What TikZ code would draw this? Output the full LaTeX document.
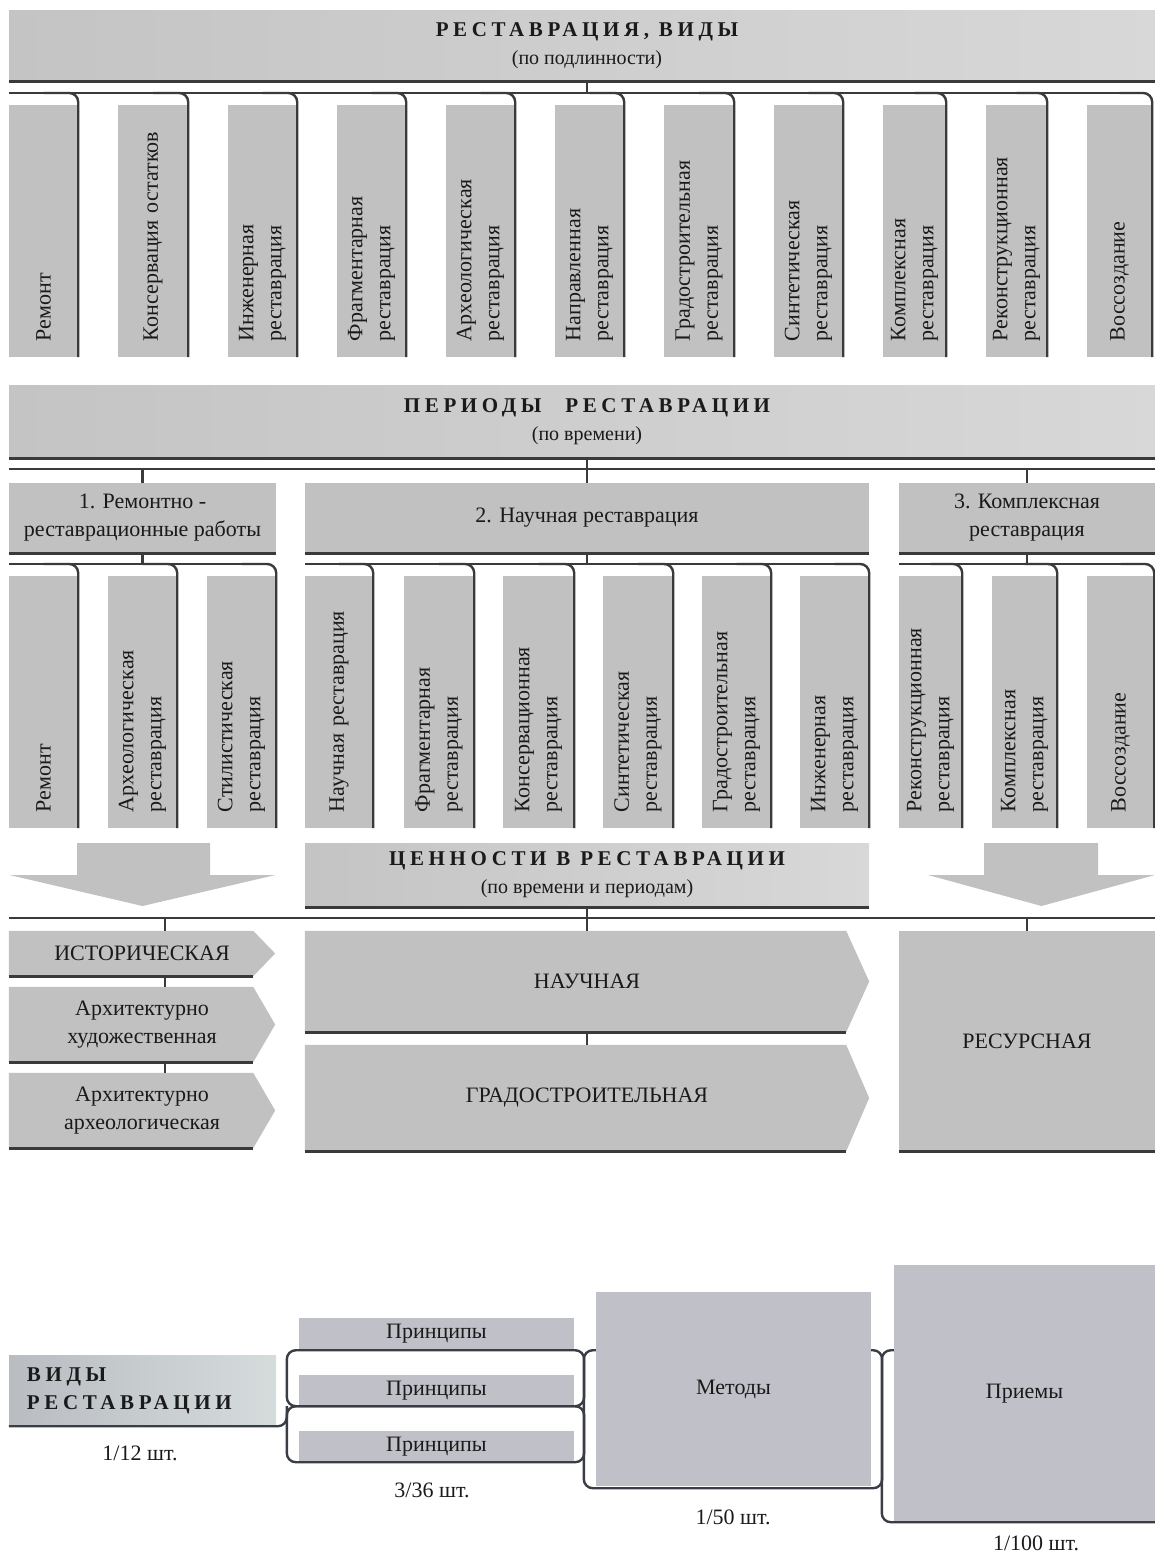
\documentclass[tikz,border=0pt]{standalone}
\usepackage{fontspec}
\setmainfont{Liberation Serif}
\newfontfamily\spaced[LetterSpace=22]{Liberation Serif}
\usetikzlibrary{backgrounds,calc}

\definecolor{bandl}{HTML}{C4C4C4}
\definecolor{bandr}{HTML}{D8D8D8}
\definecolor{boxgray}{HTML}{C1C1C1}
\definecolor{linegray}{HTML}{3A3A3A}
\definecolor{bluegray}{HTML}{C0C0C8}
\definecolor{vidyl}{HTML}{B9BCC1}
\definecolor{vidyr}{HTML}{D5DCDC}
\definecolor{btmline}{HTML}{3A3D45}
\definecolor{ink}{HTML}{1A1A1A}

\begin{document}
\begin{tikzpicture}[x = 1pt, y = -1pt,
                    band/.style = {shape = rectangle,
                                   left color = bandl,
                                   right color = bandr,
                                   minimum width = 1156pt,
                                   minimum height = #1,
                                   inner sep = 0pt,
                                   align = center,
                                   text = ink,
                                   font = \fontsize{20}{28}\selectfont},
                    col/.style = {shape = rectangle,
                                  rotate = 90,
                                  fill = boxgray,
                                  text width = 220pt,
                                  minimum height = #1,
                                  inner xsep = 16pt,
                                  inner ysep = 0pt,
                                  align = left,
                                  text = ink,
                                  font = \fontsize{22}{28}\selectfont},
                    grp/.style = {shape = rectangle,
                                  fill = boxgray,
                                  minimum height = 70pt,
                                  inner sep = 0pt,
                                  align = center,
                                  text = ink,
                                  font = \fontsize{22}{28}\selectfont},
                    val/.style = {shape = rectangle,
                                  inner sep = 0pt,
                                  align = center,
                                  text = ink,
                                  font = \fontsize{22}{28}\selectfont},
                    pbox/.style = {shape = rectangle,
                                   fill = bluegray,
                                   inner sep = 0pt,
                                   align = center,
                                   text = ink,
                                   font = \fontsize{22}{28}\selectfont},
                    note/.style = {inner sep = 0pt,
                                   text = ink,
                                   font = \fontsize{22}{28}\selectfont},
                    link/.style = {draw = linegray, line width = 2.4pt, rounded corners = 9pt},
                    bar/.style = {draw = linegray, line width = 3pt},
                    brk/.style = {draw = btmline, line width = 2.4pt, rounded corners = 9pt}]
		\useasboundingbox (0,0) rectangle (1155,1553);
		\clip (0,0) rectangle (1155,1553);

		% kinds of restoration
		\node[band = 71pt] (b1) at (587,45.5) {{\fontsize{21}{28}\selectfont\spaced\bfseries РЕСТАВРАЦИЯ, ВИДЫ}\\(по подлинности)};
		\coordinate (h1) at (587,93);
		\node[col = 69pt] (t1) at (43.5,231) {Ремонт};
		\node[col = 70pt] (t2) at (153,231) {Консервация остатков};
		\node[col = 69pt] (t3) at (262.5,231) {Инженерная\\реставрация};
		\node[col = 69pt] (t4) at (371.5,231) {Фрагментарная\\реставрация};
		\node[col = 69pt] (t5) at (480.5,231) {Археологическая\\реставрация};
		\node[col = 69pt] (t6) at (589.5,231) {Направленная\\реставрация};
		\node[col = 70pt] (t7) at (699,231) {Градостроительная\\реставрация};
		\node[col = 69pt] (t8) at (808.5,231) {Синтетическая\\реставрация};
		\node[col = 63pt] (t9) at (914.5,231) {Комплексная\\реставрация};
		\node[col = 61pt] (t10) at (1016.5,231) {Реконструкционная\\реставрация};
		\node[col = 65pt] (t11) at (1119.5,231) {Воссоздание};

		\draw[bar] (b1.south west) -- (b1.south east);
		\draw[link] (b1.south) -- (h1);
		\draw[link] (t1.north east |- h1) -- (t11.center |- h1);
		\draw[link] (t1.center |- h1) -| (t1.south west);
		\draw[link] (t2.center |- h1) -| (t2.south west);
		\draw[link] (t3.center |- h1) -| (t3.south west);
		\draw[link] (t4.center |- h1) -| (t4.south west);
		\draw[link] (t5.center |- h1) -| (t5.south west);
		\draw[link] (t6.center |- h1) -| (t6.south west);
		\draw[link] (t7.center |- h1) -| (t7.south west);
		\draw[link] (t8.center |- h1) -| (t8.south west);
		\draw[link] (t9.center |- h1) -| (t9.south west);
		\draw[link] (t10.center |- h1) -| (t10.south west);
		\draw[link] (t11.center |- h1) -| (t11.south west);

		% periods of restoration
		\node[band = 73pt] (b2) at (587,421.5) {{\fontsize{21}{28}\selectfont\spaced\bfseries ПЕРИОДЫ\hspace{14pt} РЕСТАВРАЦИИ}\\(по времени)};
		\coordinate (h2) at (587,469);
		\node[grp, minimum width = 267pt] (g1) at (142.5,518) {1. Ремонтно -\\реставрационные работы};
		\node[grp, minimum width = 564pt] (g2) at (587,518) {2. Научная реставрация};
		\node[grp, minimum width = 256pt] (g3) at (1027,518) {3. Комплексная\\реставрация};
		\coordinate (h3) at (587,564);
		\node[col = 69pt] (p1) at (43.5,702) {Ремонт};
		\node[col = 69pt] (p2) at (142.5,702) {Археологическая\\реставрация};
		\node[col = 69pt] (p3) at (241.5,702) {Стилистическая\\реставрация};
		\node[col = 68pt] (p4) at (339,702) {Научная реставрация};
		\node[col = 70pt] (p5) at (439,702) {Фрагментарная\\реставрация};
		\node[col = 71pt] (p6) at (538.5,702) {Консервационная\\реставрация};
		\node[col = 70pt] (p7) at (638,702) {Синтетическая\\реставрация};
		\node[col = 69pt] (p8) at (736.5,702) {Градостроительная\\реставрация};
		\node[col = 69pt] (p9) at (834.5,702) {Инженерная\\реставрация};
		\node[col = 63pt] (p10) at (930.5,702) {Реконструкционная\\реставрация};
		\node[col = 65pt] (p11) at (1024.5,702) {Комплексная\\реставрация};
		\node[col = 67pt] (p12) at (1120.5,702) {Воссоздание};

		\draw[bar] (b2.south west) -- (b2.south east);
		\draw[link] (b2.south) -- (g2.north);
		\draw[link] (g1.west |- h2) -- (g3.east |- h2);
		\draw[link] (g1.north |- h2) -- (g1.north);
		\draw[link] (g3.north |- h2) -- (g3.north);
		\draw[bar] (g1.south west) -- (g1.south east);
		\draw[bar] (g2.south west) -- (g2.south east);
		\draw[bar] (g3.south west) -- (g3.south east);
		\draw[link] (g1.south) -- (g1.south |- h3);
		\draw[link] (g2.south) -- (g2.south |- h3);
		\draw[link] (g3.south) -- (g3.south |- h3);
		\draw[link] (g1.south west |- h3) -- (p3.center |- h3);
		\draw[link] (g2.south west |- h3) -- (p9.center |- h3);
		\draw[link] (g3.south west |- h3) -- (p12.center |- h3);
		\draw[link] (p1.center |- h3) -| (p1.south west);
		\draw[link] (p2.center |- h3) -| (p2.south west);
		\draw[link] (p3.center |- h3) -| (p3.south west);
		\draw[link] (p4.center |- h3) -| (p4.south west);
		\draw[link] (p5.center |- h3) -| (p5.south west);
		\draw[link] (p6.center |- h3) -| (p6.south west);
		\draw[link] (p7.center |- h3) -| (p7.south west);
		\draw[link] (p8.center |- h3) -| (p8.south west);
		\draw[link] (p9.center |- h3) -| (p9.south west);
		\draw[link] (p10.center |- h3) -| (p10.south west);
		\draw[link] (p11.center |- h3) -| (p11.south west);
		\draw[link] (p12.center |- h3) -| (p12.south west);

		% values in restoration
		\fill[boxgray] (77,843) -- (210,843) -- (210,875) -- (275.5,875) -- (142.5,906) -- (9.5,875) -- (77,875) -- cycle;
		\fill[boxgray] (984,843) -- (1098,843) -- (1098,875) -- (1155,875) -- (1041.5,906) -- (928,875) -- (984,875) -- cycle;
		\node[band = 64pt, minimum width = 564pt] (v) at (587,875) {{\fontsize{21}{28}\selectfont\spaced\bfseries ЦЕННОСТИ В РЕСТАВРАЦИИ}\\(по времени и периодам)};
		\coordinate (h4) at (587,918);
		\coordinate (lx) at (165,0);
		\node[val, minimum width = 266pt, minimum height = 45pt] (hist) at (142,953.5) {ИСТОРИЧЕСКАЯ};
		\node[val, minimum width = 266pt, minimum height = 75pt] (arhud) at (142,1024.5) {Архитектурно\\художественная};
		\node[val, minimum width = 266pt, minimum height = 75pt] (arhar) at (142,1110.5) {Архитектурно\\археологическая};
		\node[val, minimum width = 564pt, minimum height = 101pt] (nauch) at (587,981.5) {НАУЧНАЯ};
		\node[val, minimum width = 564pt, minimum height = 106pt] (grad) at (587,1098) {ГРАДОСТРОИТЕЛЬНАЯ};
		\node[grp, minimum width = 256pt, minimum height = 220pt] (res) at (1027,1041) {РЕСУРСНАЯ};
		\begin{scope}[on background layer]
			\fill[boxgray] (hist.north west) -- ($(hist.north east)+(-22,0)$) -- (hist.east) -- ($(hist.south east)+(-22,0)$) -- (hist.south west) -- cycle;
			\fill[boxgray] (arhud.north west) -- ($(arhud.north east)+(-22,0)$) -- (arhud.east) -- ($(arhud.south east)+(-22,0)$) -- (arhud.south west) -- cycle;
			\fill[boxgray] (arhar.north west) -- ($(arhar.north east)+(-22,0)$) -- (arhar.east) -- ($(arhar.south east)+(-22,0)$) -- (arhar.south west) -- cycle;
			\fill[boxgray] (nauch.north west) -- ($(nauch.north east)+(-23,0)$) -- (nauch.east) -- ($(nauch.south east)+(-23,0)$) -- (nauch.south west) -- cycle;
			\fill[boxgray] (grad.north west) -- ($(grad.north east)+(-23,0)$) -- (grad.east) -- ($(grad.south east)+(-23,0)$) -- (grad.south west) -- cycle;
		\end{scope}

		\draw[bar] (v.south west) -- (v.south east);
		\draw[link] (hist.west |- h4) -- (res.east |- h4);
		\draw[link] (v.south) -- (v.south |- nauch.north);
		\draw[link] (nauch.south) -- (grad.north);
		\draw[link] (res.north |- h4) -- (res.north);
		\draw[link] (lx |- h4) -- (lx |- hist.north);
		\draw[link] (lx |- hist.south) -- (lx |- arhud.north);
		\draw[link] (lx |- arhud.south) -- (lx |- arhar.north);
		\draw[bar] (hist.south west) -- ($(hist.south east)+(-22,0)$);
		\draw[bar] (arhud.south west) -- ($(arhud.south east)+(-22,0)$);
		\draw[bar] (arhar.south west) -- ($(arhar.south east)+(-22,0)$);
		\draw[bar] (nauch.south west) -- ($(nauch.south east)+(-23,0)$);
		\draw[bar] (grad.south west) -- ($(grad.south east)+(-23,0)$);
		\draw[bar] (res.south west) -- (res.south east);

		% kinds -> principles -> methods -> techniques
		\node[pbox, left color = vidyl, right color = vidyr, minimum width = 267pt, minimum height = 71pt,
		      text width = 231pt, align = left] (vidy) at (142.5,1390.5) {\fontsize{21}{27}\selectfont\spaced\bfseries ВИДЫ\\РЕСТАВРАЦИИ};
		\node[pbox, minimum width = 275pt, minimum height = 32pt] (pr1) at (436.5,1334) {Принципы};
		\node[pbox, minimum width = 275pt, minimum height = 31pt] (pr2) at (436.5,1390.5) {Принципы};
		\node[pbox, minimum width = 275pt, minimum height = 31pt] (pr3) at (436.5,1446.5) {Принципы};
		\node[pbox, minimum width = 275pt, minimum height = 194pt] (meth) at (733.5,1389) {Методы};
		\node[pbox, minimum width = 261pt, minimum height = 257pt] (priem) at (1024.5,1393.5) {Приемы};
		\node[note] (n1) at (140,1453) {1/12 шт.};
		\node[note] (n2) at (432,1490) {3/36 шт.};
		\node[note] (n3) at (733,1517) {1/50 шт.};
		\node[note] (n4) at (1036,1543) {1/100 шт.};

		\draw[brk] (vidy.south west) -| ($(pr2.south west)+(-12,0)$);
		\draw[brk] ($(pr1.south west)+(-12,0)$) rectangle ($(pr2.south east)+(10,0)$);
		\draw[brk] ($(pr2.south west)+(-12,0)$) rectangle ($(pr3.south east)+(10,0)$);
		\draw[brk] (meth.west |- pr1.south) -| ($(meth.south west)+(-12,2)$) -| ($(meth.east |- pr1.south)+(11,0)$) -- (meth.east |- pr1.south);
		\draw[brk] (priem.west |- pr1.south) -| ($(priem.south west)+(-12,0)$) -- (priem.south east);
	\end{tikzpicture}
\end{document}
